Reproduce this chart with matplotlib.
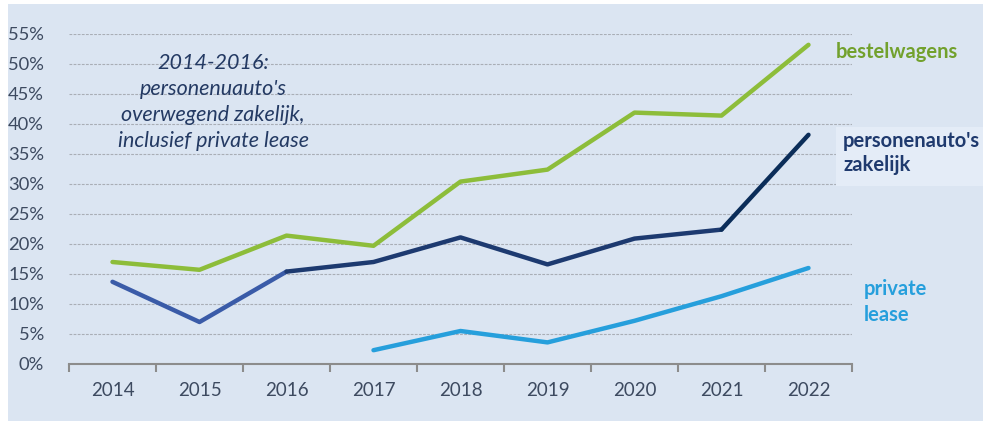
import numpy as np
import matplotlib.pyplot as plt
from matplotlib.patches import Rectangle
from matplotlib.ticker import FixedLocator, FuncFormatter

plt.rcParams['font.family'] = ['Lato', 'DejaVu Sans']

# data (percentages)
years = ['2014', '2015', '2016', '2017', '2018', '2019', '2020', '2021', '2022']
bestelwagens = [17.0, 15.7, 21.4, 19.7, 30.4, 32.4, 41.9, 41.4, 53.2]
personen_zakelijk = [13.7, 7.0, 15.4, 17.0, 21.1, 16.6, 20.9, 22.4, 38.2]
private_lease = [None, None, None, 2.3, 5.5, 3.6, 7.2, 11.3, 16.0]
y_ticks = [0, 5, 10, 15, 20, 25, 30, 35, 40, 45, 50, 55]

BG = '#dbe5f2'
GREEN = '#8dbd3a'
NAVY_MID = '#3a5ba8'
NAVY = '#1d3a70'
NAVY_DARK = '#0b2d59'
LIGHT_BLUE = '#269fdc'
TXT = '#3d4a60'

fig = plt.figure(figsize=(9.83, 4.21), dpi=100, facecolor='white')
W, H = 983, 421
fig.patches.append(Rectangle((8 / W, 0), 1 - 8 / W, 1 - 4 / H, transform=fig.transFigure,
                             facecolor=BG, edgecolor='none', zorder=-10))

ax = fig.add_axes([69 / W, 57 / H, (852 - 69) / W, (364 - 34) / H])
ax.set_facecolor('none')
x = np.arange(len(years))

# grid
for v in y_ticks[1:]:
    ax.axhline(v, color='#a9aeb6', lw=0.8, ls=(0, (2.5, 1.2)), zorder=1)

lw = 3.2
ax.plot(x, bestelwagens, color=GREEN, lw=lw, solid_capstyle='round', solid_joinstyle='round', zorder=3)
ax.plot(x[:3], personen_zakelijk[:3], color=NAVY_MID, lw=lw, solid_capstyle='round', zorder=3)
ax.plot(x[2:8], personen_zakelijk[2:8], color=NAVY, lw=lw, solid_capstyle='round', solid_joinstyle='round', zorder=3)
ax.plot(x[7:], personen_zakelijk[7:], color=NAVY_DARK, lw=lw, solid_capstyle='round', zorder=3)
pl = [(i, v) for i, v in enumerate(private_lease) if v is not None]
ax.plot([p[0] for p in pl], [p[1] for p in pl], color=LIGHT_BLUE, lw=lw,
        solid_capstyle='round', solid_joinstyle='round', zorder=3)

ax.set_xlim(-0.5, len(years) - 0.5)
ax.set_ylim(0, 55)
for s in ['top', 'right', 'left']:
    ax.spines[s].set_visible(False)
ax.spines['bottom'].set_color('#8c8c8c')
ax.spines['bottom'].set_linewidth(1.5)
ax.spines['bottom'].set_zorder(4)

ax.set_xticks(x)
ax.set_xticklabels(years)
ax.xaxis.set_minor_locator(FixedLocator(np.arange(-0.5, len(years), 1.0)))
ax.tick_params(axis='x', which='major', length=0, pad=13, labelsize=13.5, labelcolor=TXT)
ax.tick_params(axis='x', which='minor', length=6, width=1.5, color='#8c8c8c', direction='out')
ax.set_yticks(y_ticks)
ax.yaxis.set_major_formatter(FuncFormatter(lambda v, p: f'{v:.0f}%'))
ax.tick_params(axis='y', length=0, pad=18, labelsize=13.2, labelcolor=TXT)

# annotation box covering grid lines
fig.patches.append(Rectangle((84 / W, (421 - 154) / H), (337 - 84) / W, 108 / H,
                             transform=fig.transFigure, facecolor=BG, edgecolor='none', zorder=0))
ax.set_zorder(1)
fig.text(213 / W, (421 - 102) / H,
         "2014-2016:\npersonenuauto's\noverwegend zakelijk,\ninclusief private lease",
         ha='center', va='center', fontsize=15.5, style='italic', color='#243a63', linespacing=1.38,
         zorder=5)

# series labels
fig.text(836 / W, (421 - 52) / H, 'bestelwagens', ha='left', va='center', fontsize=14.5,
         fontweight='bold', color='#72a12d')
fig.patches.append(Rectangle((836 / W, (421 - 186) / H), (W - 836) / W, 59 / H,
                             transform=fig.transFigure, facecolor='#e4ecf7', edgecolor='none', zorder=2))
fig.text(843 / W, (421 - 153) / H, "personenauto's\nzakelijk", ha='left', va='center', fontsize=14.5,
         fontweight='bold', color='#1f3a6e', linespacing=1.3, zorder=6)
fig.text(864 / W, (421 - 302) / H, 'private\nlease', ha='left', va='center', fontsize=14.5,
         fontweight='bold', color=LIGHT_BLUE, linespacing=1.4)

fig.savefig('out.png', dpi=100, facecolor=fig.get_facecolor())
